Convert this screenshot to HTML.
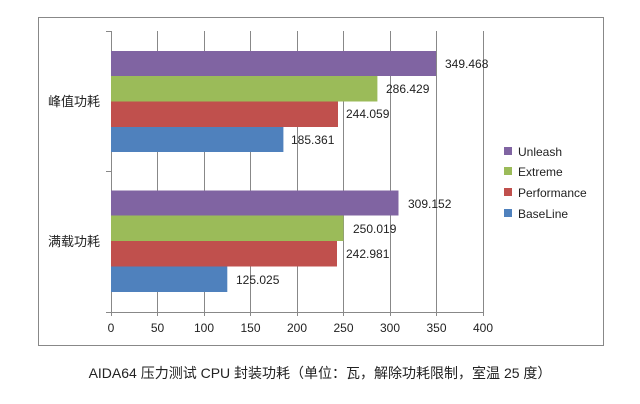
<!DOCTYPE html>
<html><head><meta charset="utf-8"><style>
body{margin:0;background:#fff;}
svg{display:block;font-family:"Liberation Sans","Noto Sans CJK SC",sans-serif;}
</style></head><body>
<svg width="640" height="404" viewBox="0 0 640 404">
<rect x="38.5" y="17.5" width="565" height="328" fill="#fff" stroke="#888" stroke-width="1"/>
<g stroke="#888" stroke-width="1">
<line x1="157.5" y1="31" x2="157.5" y2="312"/>
<line x1="204.5" y1="31" x2="204.5" y2="312"/>
<line x1="250.5" y1="31" x2="250.5" y2="312"/>
<line x1="297.5" y1="31" x2="297.5" y2="312"/>
<line x1="343.5" y1="31" x2="343.5" y2="312"/>
<line x1="390.5" y1="31" x2="390.5" y2="312"/>
<line x1="436.5" y1="31" x2="436.5" y2="312"/>
<line x1="483.5" y1="31" x2="483.5" y2="312"/>
<line x1="111.5" y1="31" x2="111.5" y2="316"/>
<line x1="111" y1="312.5" x2="483" y2="312.5"/>
<line x1="106" y1="31.5" x2="111" y2="31.5"/>
<line x1="106" y1="171.5" x2="111" y2="171.5"/>
<line x1="106" y1="312.5" x2="111" y2="312.5"/>
<line x1="157.5" y1="312" x2="157.5" y2="316"/>
<line x1="204.5" y1="312" x2="204.5" y2="316"/>
<line x1="250.5" y1="312" x2="250.5" y2="316"/>
<line x1="297.5" y1="312" x2="297.5" y2="316"/>
<line x1="343.5" y1="312" x2="343.5" y2="316"/>
<line x1="390.5" y1="312" x2="390.5" y2="316"/>
<line x1="436.5" y1="312" x2="436.5" y2="316"/>
<line x1="483.5" y1="312" x2="483.5" y2="316"/>
</g>
<rect x="111" y="51" width="325" height="25" fill="#8064A2"/>
<rect x="111" y="76" width="266.4" height="25.5" fill="#9BBB59"/>
<rect x="111" y="101.5" width="227" height="25.5" fill="#C0504D"/>
<rect x="111" y="127" width="172.4" height="25" fill="#4F81BD"/>
<rect x="111" y="190.5" width="287.5" height="25" fill="#8064A2"/>
<rect x="111" y="215.5" width="232.5" height="25.5" fill="#9BBB59"/>
<rect x="111" y="241" width="226" height="25.5" fill="#C0504D"/>
<rect x="111" y="266.5" width="116.3" height="25.5" fill="#4F81BD"/>
<g font-size="12" fill="#222">
<text x="445" y="68">349.468</text>
<text x="386" y="93">286.429</text>
<text x="346" y="118">244.059</text>
<text x="291" y="144">185.361</text>
<text x="408" y="208">309.152</text>
<text x="353" y="233">250.019</text>
<text x="346" y="258">242.981</text>
<text x="236" y="284">125.025</text>
</g>
<g font-size="12" fill="#222" text-anchor="middle">
<text x="111" y="332">0</text><text x="157.5" y="332">50</text><text x="204" y="332">100</text>
<text x="250.5" y="332">150</text><text x="297" y="332">200</text><text x="343.5" y="332">250</text>
<text x="390" y="332">300</text><text x="436.5" y="332">350</text><text x="483" y="332">400</text>
</g>
<g font-size="13" fill="#222">
<text x="48" y="106">峰值功耗</text>
<text x="48" y="246">满载功耗</text>
</g>
<rect x="504" y="147" width="8" height="8" fill="#8064A2"/>
<rect x="504" y="167" width="8" height="8" fill="#9BBB59"/>
<rect x="504" y="188" width="8" height="8" fill="#C0504D"/>
<rect x="504" y="209" width="8" height="8" fill="#4F81BD"/>
<g font-size="12" fill="#222">
<text x="518" y="156">Unleash</text>
<text x="518" y="176">Extreme</text>
<text x="518" y="197">Performance</text>
<text x="518" y="218">BaseLine</text>
</g>
<text x="320" y="378" font-size="14" fill="#222" text-anchor="middle">AIDA64 压力测试 CPU 封装功耗（单位：瓦，解除功耗限制，室温 25 度）</text>
</svg>
</body></html>
